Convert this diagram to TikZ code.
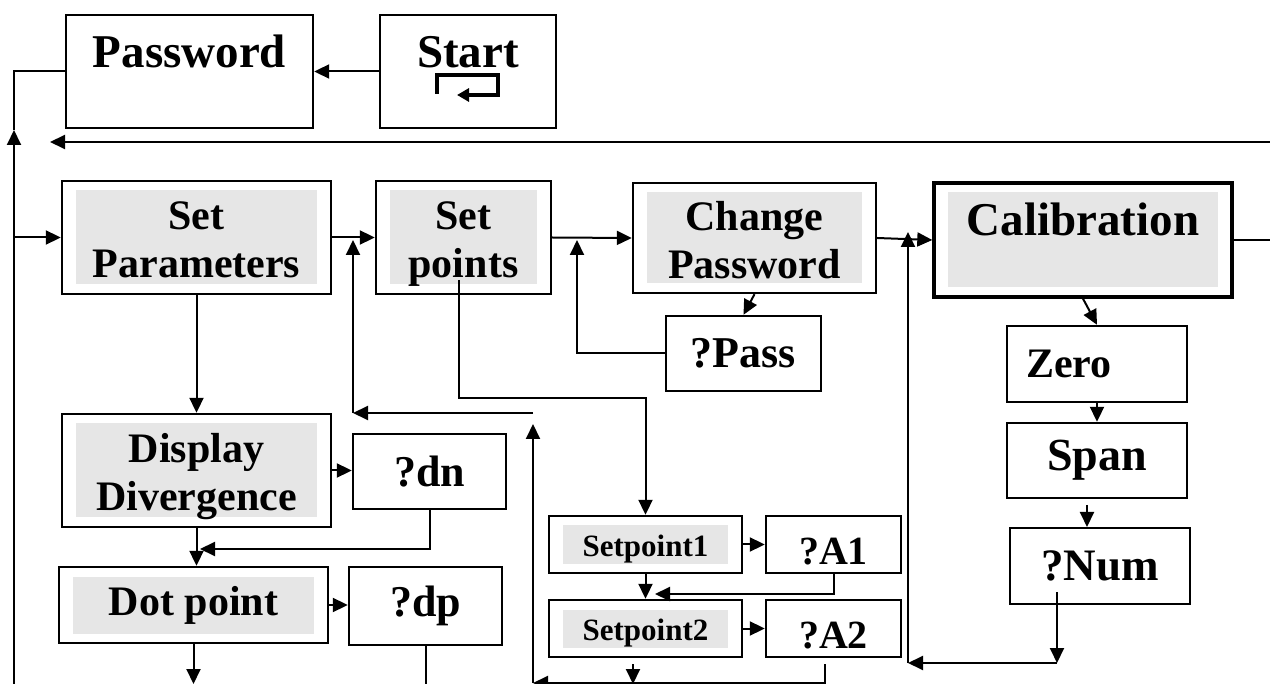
\documentclass[tikz,border=0pt]{standalone}
\usepackage{fontspec}
\setmainfont{Liberation Serif}
\usetikzlibrary{arrows.meta}
\definecolor{panel}{HTML}{E6E6E6}

\begin{document}
\begin{tikzpicture}[x=1pt,y=-1pt,line width=2pt,font=\fontsize{42}{48}\selectfont\bfseries]
  \tikzstyle{box}=[draw,line width=2.4pt,inner sep=0pt,align=center]
  \tikzstyle{grey}=[box,path picture={\fill[panel] ([shift={(14pt,-9.5pt)}]path picture bounding box.north west) rectangle ([shift={(-14pt,9.5pt)}]path picture bounding box.south east);}]
  \tikzstyle{arr}=[-{Triangle[length=15pt,width=14pt]}]
  \tikzstyle{two}=[text height=85pt,text depth=4pt]
  \tikzstyle{big}=[font=\fontsize{47}{52}\selectfont\bfseries]
  \tikzstyle{mid}=[font=\fontsize{44}{50}\selectfont\bfseries]
  \tikzstyle{small}=[font=\fontsize{31}{36}\selectfont\bfseries]
  \useasboundingbox (0,0) rectangle (1270,684);

  \node[box,big,minimum width=247pt,minimum height=113pt,text height=33pt,text depth=40pt] (pass) at (189.5,71.5) {Password};
  \node[box,big,minimum width=176pt,minimum height=113pt,text height=33pt,text depth=40pt] (start) at (468,71.5) {Start};
  \draw[line width=4.5pt,-{Triangle[length=12pt,width=13pt]}] ([shift={(-31pt,-22.5pt)}]start.center) |- ([shift={(30pt,-3.5pt)}]start.center) |- ([shift={(-11pt,-23.5pt)}]start.center);

  \node[grey,two,minimum width=269pt,minimum height=113pt] (setpar) at (196.5,237.5) {Set\\Parameters};
  \node[grey,two,minimum width=175pt,minimum height=113pt] (setpts) at (463.5,237.5) {Set\\points};
  \node[grey,two,minimum width=243pt,minimum height=110pt] (chpass) at (754.5,238) {Change\\Password};
  \node[grey,big,line width=3.4pt,minimum width=298pt,minimum height=114pt,text height=33pt,text depth=41pt] (calib) at (1083,240) {Calibration};
  \node[box,mid,minimum width=155pt,minimum height=75pt] (qpass) at (743.5,353.5) {?Pass};
  \node[box,minimum width=180pt,minimum height=76pt,text width=142pt,align=left] (zero) at (1097,364) {Zero};
  \node[box,font=\fontsize{46}{52}\selectfont\bfseries,minimum width=180pt,minimum height=75pt] (span) at (1097,460.5) {Span};
  \node[box,font=\fontsize{45}{52}\selectfont\bfseries,minimum width=180pt,minimum height=76pt] (qnum) at (1100,566) {?Num};
  \node[grey,two,minimum width=269pt,minimum height=113pt] (disp) at (196.5,470.5) {Display\\Divergence};
  \node[box,mid,minimum width=153pt,minimum height=75pt] (qdn) at (429.5,471.5) {?dn};
  \node[grey,minimum width=269pt,minimum height=76pt] (dot) at (193.5,605) {Dot point};
  \node[box,mid,minimum width=153pt,minimum height=78pt] (qdp) at (425.5,606) {?dp};
  \node[grey,small,minimum width=193pt,minimum height=57pt,text height=23pt,text depth=0pt] (sp1) at (645.5,544.5) {Setpoint1};
  \node[box,font=\fontsize{40}{46}\selectfont\bfseries,minimum width=135pt,minimum height=57pt,text height=39pt,text depth=0pt] (qa1) at (833.5,544.5) {?A1};
  \node[grey,small,minimum width=193pt,minimum height=57pt,text height=23pt,text depth=0pt] (sp2) at (645.5,628.5) {Setpoint2};
  \node[box,font=\fontsize{40}{46}\selectfont\bfseries,minimum width=135pt,minimum height=57pt,text height=39pt,text depth=0pt] (qa2) at (833.5,628.5) {?A2};

  \coordinate (lb) at (14,684);
  \coordinate (lup) at (14,130);
  \coordinate (rr) at (1270,142);
  \coordinate (rl) at (50,142);
  \draw[arr] (lb) -- (lup);
  \draw (lup) |- (pass.west);
  \draw[arr] (lb |- setpar.west) -- (setpar.west);
  \draw[arr] (start.west) -- (pass.east);
  \draw[arr] (rr) -- (rl);
  \draw (calib.east) -- (calib.east -| rr);

  \draw[arr] (setpar.east) -- (setpts.west);
  \draw[arr] (setpts.east) -- (chpass.west);
  \draw[arr] (chpass.east) -- (calib.west);
  \draw[arr] (chpass.south) -- (qpass.north);
  \draw[arr] (calib.south) -- (zero.north);
  \draw[arr] (zero) -- (span);
  \coordinate (sa) at (1087,505);
  \coordinate (sb) at (1087,527);
  \draw[arr] (sa) -- (sb);
  \coordinate (n1) at (1057,592);
  \coordinate (n2) at (1057,663);
  \coordinate (n3) at (908,663);
  \coordinate (n4) at (908,232);
  \draw[arr] (n1) -- (n2);
  \draw[arr] (n2) -- (n3);
  \draw[arr] (n3) -- (n4);

  \coordinate (p1) at (459,280);
  \coordinate (p2) at (459,398);
  \draw[arr] (p1) -- (p2) -| (sp1.north);
  \coordinate (q1) at (577,240);
  \draw[arr] (qpass.west) -| (q1);
  \coordinate (u1) at (533,413);
  \coordinate (u2) at (353,413);
  \coordinate (u3) at (353,240);
  \draw[arr] (u1) -- (u2);
  \draw[arr] (u2) -- (u3);

  \draw[arr] (setpar) -- (disp);
  \draw[arr] (disp.east) -- (disp.east -| qdn.west);
  \coordinate (d1) at (200,549);
  \draw[arr] (qdn.south) |- (d1);
  \draw[arr] (disp.south) -- (disp.south |- dot.north);
  \draw[arr] (dot.east) -- (dot.east -| qdp.west);
  \draw[arr] (dot.south) -- (dot.south |- lb);
  \draw (qdp.south) -- (qdp.south |- lb);

  \draw[arr] (sp1) -- (qa1);
  \draw[arr] (sp1) -- (sp2);
  \coordinate (a1) at (655,594);
  \draw[arr] (qa1.south) |- (a1);
  \draw[arr] (sp2) -- (qa2);
  \coordinate (e1) at (633,664);
  \coordinate (e2) at (633,684);
  \draw[arr] (e1) -- (e2);
  \coordinate (f1) at (825,664);
  \coordinate (f2) at (825,683);
  \coordinate (f3) at (533,683);
  \coordinate (f4) at (533,424);
  \draw[arr] (f1) -- (f2) -- (f3);
  \draw[arr] (f3) -- (f4);
\end{tikzpicture}
\end{document}
